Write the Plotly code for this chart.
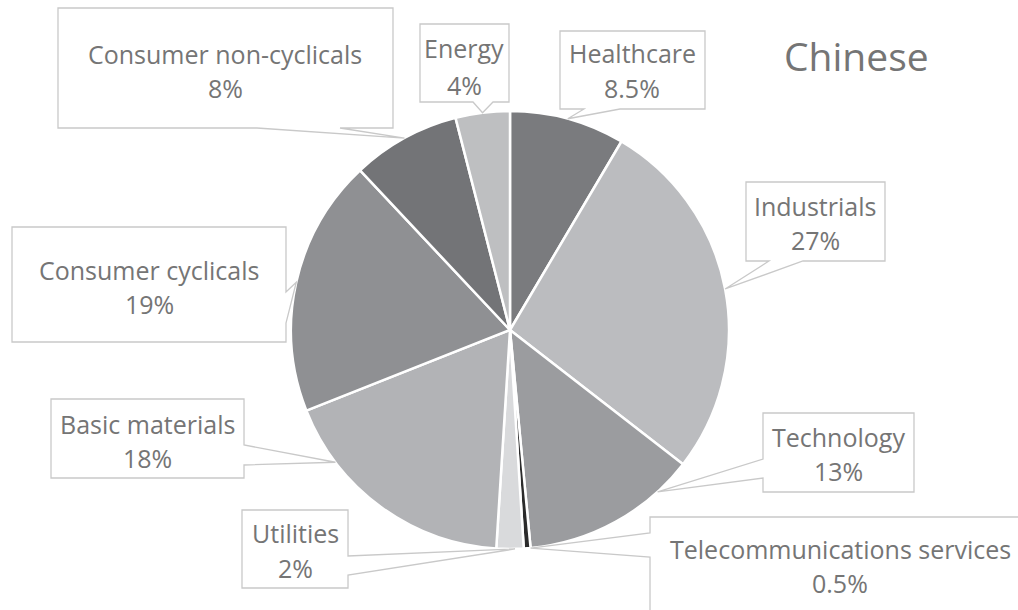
import numpy as np
import plotly.graph_objects as go

# ---------------- data ----------------
sectors = ["Healthcare", "Industrials", "Technology", "Telecommunications services",
           "Utilities", "Basic materials", "Consumer cyclicals",
           "Consumer non-cyclicals", "Energy"]
shares = [8.5, 27, 13, 0.5, 2, 18, 19, 8, 4]
slice_colors = ["#7a7b7e", "#bbbcbf", "#9b9c9f", "#2b2b2b", "#d9dadc",
                "#b2b3b6", "#8f9093", "#737477", "#bebfc1"]
title_text = "Chinese"

# ---------------- layout constants (pixels) ----------------
W, H = 1018, 610
CX, CY, R = 510, 330, 219
TEXT_COLOR = "#757575"
LINE_COLOR = "#c9c9c9"
FONT = "Open Sans"

# callout geometry per sector: box rect, side holding the pointer, pointer base,
# position of leader tip inside the slice (fraction of slice angle), text centres
callouts = {
    "Healthcare":                 dict(box=(560, 31, 705, 109), side="bottom", base=(584, 620), frac=0.5,  tx=632, ty=(52, 87)),
    "Industrials":                dict(box=(746, 182, 885, 261), side="bottom", base=(769, 803), frac=0.5,  tx=815, ty=(205, 239)),
    "Technology":                 dict(box=(763, 413, 914, 492), side="left", base=(459, 478), frac=0.21, tx=838, ty=(436, 470)),
    "Telecommunications services": dict(box=(650, 517, 1030, 625), side="left", base=(533, 557), frac=0.0, tx=840, ty=(548, 582)),
    "Utilities":                  dict(box=(242, 510, 348, 588), side="right", base=(556, 575), frac=0.32, tx=295, ty=(532, 567)),
    "Basic materials":            dict(box=(51, 399, 244, 478), side="right", base=(445, 465), frac=0.76, tx=147, ty=(423, 457)),
    "Consumer cyclicals":         dict(box=(12, 227, 286, 342), side="right", base=(292, 323), frac=0.5,  tx=149, ty=(269, 303)),
    "Consumer non-cyclicals":     dict(box=(58, 8, 393, 128), side="bottom", base=(257, 340), frac=0.5,  tx=225, ty=(53, 87)),
    "Energy":                     dict(box=(420, 24, 509, 102), side="bottom", base=(473, 493), frac=0.5,  tx=464, ty=(47, 84)),
}


def px(x):
    return x / W


def py(y):
    return 1 - y / H


fig = go.Figure()
fig.add_trace(go.Pie(
    labels=sectors, values=shares, sort=False, direction="clockwise", rotation=0,
    marker=dict(colors=slice_colors, line=dict(color="white", width=2.5)),
    textinfo="none", hoverinfo="label+percent", showlegend=False,
    domain=dict(x=[px(CX - R), px(CX + R)], y=[py(CY + R), py(CY - R)]),
))

# slice angles (clockwise from 12 o'clock)
total = float(sum(shares))
cum = np.concatenate([[0], np.cumsum(shares)]) / total * 360.0

shapes, annotations = [], []
for i, name in enumerate(sectors):
    c = callouts[name]
    a0, a1 = cum[i], cum[i + 1]
    ang = np.radians(a0 + c["frac"] * (a1 - a0))
    tipx = CX + R * np.sin(ang)
    tipy = CY - R * np.cos(ang)
    x0, y0, x1, y1 = c["box"]
    b0, b1 = c["base"]
    pts = [(x0, y0), (x1, y0)]
    if c["side"] == "right":
        pts += [(x1, b0), (tipx, tipy), (x1, b1)]
    pts += [(x1, y1)]
    if c["side"] == "bottom":
        pts += [(b1, y1), (tipx, tipy), (b0, y1)]
    pts += [(x0, y1)]
    if c["side"] == "left":
        pts += [(x0, b1), (tipx, tipy), (x0, b0)]
    path = "M " + " L ".join(f"{px(x):.5f},{py(y):.5f}" for x, y in pts) + " Z"
    shapes.append(dict(type="path", xref="paper", yref="paper", path=path,
                       fillcolor="white", line=dict(color=LINE_COLOR, width=1.3)))
    for txt, yy in zip([name, f"{shares[i]:g}%"], c["ty"]):
        annotations.append(dict(text=txt, x=px(c["tx"]), y=py(yy + 1), xref="paper", yref="paper",
                                xanchor="center", yanchor="middle", showarrow=False,
                                font=dict(family=FONT, size=25, color=TEXT_COLOR)))

annotations.append(dict(text=title_text, x=px(856), y=py(56), xref="paper", yref="paper",
                        xanchor="center", yanchor="middle", showarrow=False,
                        font=dict(family=FONT, size=39, color=TEXT_COLOR)))

fig.update_layout(
    width=W, height=H, margin=dict(l=0, r=0, t=0, b=0),
    paper_bgcolor="white", plot_bgcolor="white",
    shapes=shapes, annotations=annotations,
)

fig.write_html("out.html", config={"displayModeBar": False},
               post_script="document.body.style.margin='0px';")
